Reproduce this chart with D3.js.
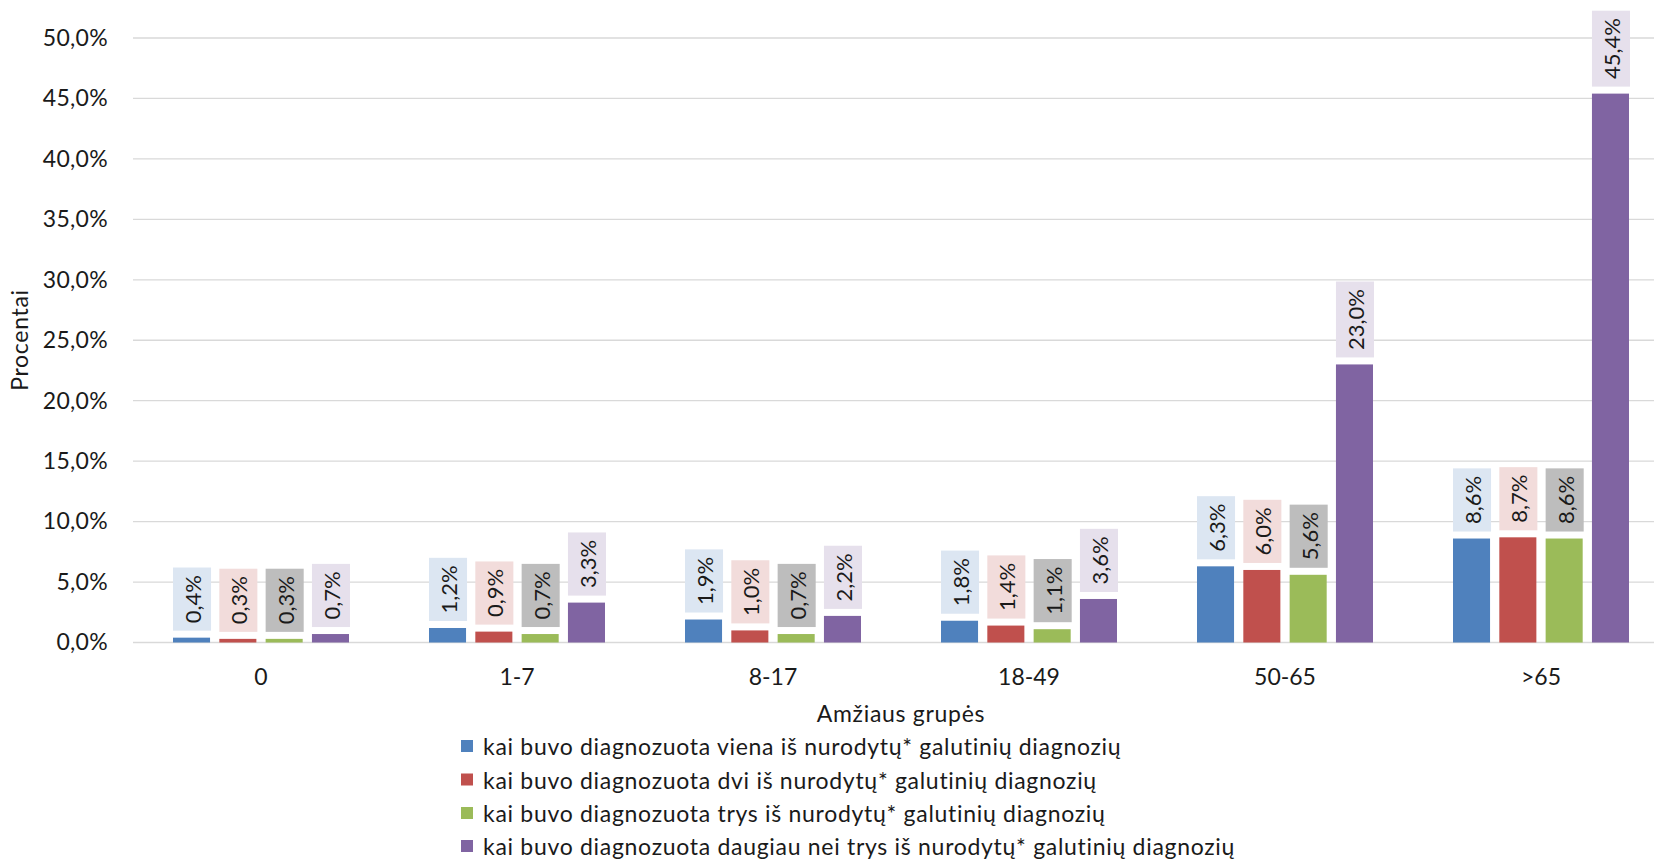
<!DOCTYPE html>
<html lang="lt">
<head>
<meta charset="utf-8">
<script src="https://cdn.jsdelivr.net/npm/d3@7"></script>
<style>
  html, body { margin: 0; padding: 0; background: #fff; }
  svg { display: block; }
  text { font-family: "Lato", "Open Sans", sans-serif; fill: #1a1a1a; }
</style>
</head>
<body>
<svg id="chart" width="1654" height="861"></svg>
<script>
// Age groups on the horizontal axis
const ageGroups = ["0", "1-7", "8-17", "18-49", "50-65", ">65"];

// Share of patients (%) by number of listed final diagnoses
const oneDiagnosis   = [0.4, 1.2, 1.9, 1.8, 6.3, 8.6];
const twoDiagnoses   = [0.3, 0.9, 1.0, 1.4, 6.0, 8.7];
const threeDiagnoses = [0.3, 0.7, 0.7, 1.1, 5.6, 8.6];
const moreDiagnoses  = [0.7, 3.3, 2.2, 3.6, 23.0, 45.4];

const seriesNames = [
  "kai buvo diagnozuota viena iš nurodytų* galutinių diagnozių",
  "kai buvo diagnozuota dvi iš nurodytų* galutinių diagnozių",
  "kai buvo diagnozuota trys iš nurodytų* galutinių diagnozių",
  "kai buvo diagnozuota daugiau nei trys iš nurodytų* galutinių diagnozių"
];

const yTicks = [0, 5, 10, 15, 20, 25, 30, 35, 40, 45, 50];

const barColors   = ["#4f81bd", "#c0504d", "#9bbb59", "#8064a2"];
const labelFills  = ["#dce6f2", "#f2dcdb", "#bdbdbd", "#e6e0ec"];

const seriesValues = [oneDiagnosis, twoDiagnoses, threeDiagnoses, moreDiagnoses];
const series = seriesNames.map((name, i) => ({ name, values: seriesValues[i], index: i }));

const lt = d3.formatLocale({ decimal: ",", thousands: " ", grouping: [3], currency: ["", " €"] });
const fmt = lt.format(".1f");
const pct = v => fmt(v) + "%";

const svg = d3.select("#chart");
svg.append("rect").attr("width", 1654).attr("height", 861).attr("fill", "#fff");

const plot = { left: 133, right: 1669, top: 38, bottom: 642.5 };

const y = d3.scaleLinear().domain([0, 50]).range([plot.bottom, plot.top]);
const x0 = d3.scaleBand().domain(ageGroups).range([plot.left, plot.right])
  .paddingInner(0.3125).paddingOuter(0.15625);
const x1 = d3.scaleBand().domain(d3.range(seriesNames.length))
  .range([0, x0.bandwidth()]).paddingInner(0.2).paddingOuter(0);

// Horizontal gridlines
svg.append("g").selectAll("line").data(yTicks).join("line")
  .attr("x1", plot.left).attr("x2", plot.right)
  .attr("y1", d => y(d)).attr("y2", d => y(d))
  .attr("stroke", "#d9d9d9").attr("stroke-width", 1.3);

// Y axis labels
const yAxis = svg.append("g").attr("transform", `translate(${plot.left},0)`)
  .call(d3.axisLeft(y).tickValues(yTicks).tickFormat(pct).tickSize(0).tickPadding(25));
yAxis.select(".domain").remove();
yAxis.selectAll("text").style("font-size", "23px").style("letter-spacing", "0.3px").attr("font-family", null);

// X axis labels
const xAxis = svg.append("g").attr("transform", `translate(0,${plot.bottom})`)
  .call(d3.axisBottom(x0).tickSize(0).tickPadding(26));
xAxis.select(".domain").remove();
xAxis.selectAll("text").style("font-size", "23px").attr("font-family", null);

// Bars
const groups = svg.append("g").selectAll("g").data(series).join("g");
groups.selectAll("rect").data(s => s.values.map((v, j) => ({ v, j, s: s.index }))).join("rect")
  .attr("x", d => x0(ageGroups[d.j]) + x1(d.s))
  .attr("width", x1.bandwidth())
  .attr("y", d => y(d.v))
  .attr("height", d => y(0) - y(d.v))
  .attr("fill", d => barColors[d.s]);

// Value labels: rotated text on a tinted box just above each bar
const gap = 7, pad = 7.5;
series.forEach(s => {
  s.values.forEach((v, j) => {
    const bx = x0(ageGroups[j]) + x1(s.index);
    const bw = x1.bandwidth();
    const g = svg.append("g");
    const box = g.append("rect").attr("fill", labelFills[s.index]);
    const t = g.append("text")
      .style("font-size", "22px")
      .attr("text-anchor", "start")
      .attr("dominant-baseline", "central")
      .text(pct(v));
    const len = t.node().getComputedTextLength();
    const bottom = y(v) - gap;
    const h = len + pad * 2;
    box.attr("x", bx).attr("width", bw + 1).attr("y", bottom - h).attr("height", h);
    t.attr("transform", `translate(${bx + bw / 2 + 1},${bottom - pad}) rotate(-90)`);
  });
});

// Axis titles
svg.append("text")
  .attr("x", 901).attr("y", 722)
  .attr("text-anchor", "middle")
  .style("font-size", "23px").style("letter-spacing", "0.7px")
  .text("Amžiaus grupės");

svg.append("text")
  .attr("transform", `translate(28,340) rotate(-90)`)
  .attr("text-anchor", "middle")
  .style("font-size", "23px").style("letter-spacing", "0.7px")
  .text("Procentai");

// Legend
const legendRows = [746, 779.5, 813, 846];
const legend = svg.append("g").selectAll("g").data(series).join("g")
  .attr("transform", (d, i) => `translate(461,${legendRows[i]})`);
legend.append("rect").attr("x", 0).attr("y", -6).attr("width", 12).attr("height", 12)
  .attr("fill", d => barColors[d.index]);
legend.append("text").attr("x", 22).attr("y", 0)
  .attr("dominant-baseline", "central")
  .style("font-size", "23px").style("letter-spacing", "0.7px")
  .text(d => d.name);
</script>
</body>
</html>
